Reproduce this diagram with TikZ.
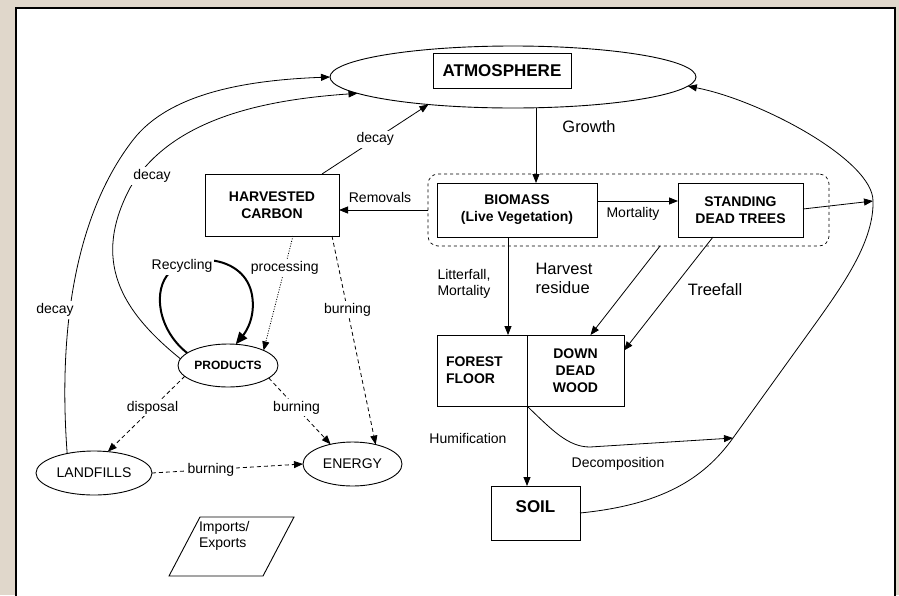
\documentclass[tikz,border=0pt]{standalone}
\usepackage{fontspec}
\setmainfont{Liberation Sans}
\usetikzlibrary{arrows.meta,shapes.geometric,calc}
\definecolor{bgbeige}{RGB}{224,215,203}
\begin{document}
\begin{tikzpicture}[x=1pt,y=-1pt,
  every node/.style={inner sep=0pt,outer sep=0pt},
  box/.style={draw,line width=0.9pt,fill=white},
  oval/.style={draw,ellipse,line width=0.9pt,fill=white},
  lbl/.style={font=\fontsize{14}{16}\selectfont},
  biglbl/.style={font=\fontsize{16.5}{19}\selectfont},
  btxt/.style={font=\bfseries\fontsize{14}{17}\selectfont,align=center},
  conn/.style={line width=0.8pt},
  arr/.style={conn,-{Triangle[length=9pt,width=7pt]}},
  dashedarr/.style={arr,dash pattern=on 4pt off 3pt},
  dottedarr/.style={arr,dash pattern=on 1pt off 1.5pt},
  wlbl/.style={lbl,fill=white,inner sep=2pt}
]
\fill[bgbeige] (0,0) rectangle (899,595);
\useasboundingbox (0,0) rectangle (899,595);
\draw[line width=2.7pt,fill=white] (16,8) rectangle (895,620);

% nodes
\node[oval,minimum width=366,minimum height=62] (atm) at (513,77) {};
\node[box,minimum width=138,minimum height=35,font=\bfseries\fontsize{17}{20}\selectfont] (atmt) at (502,71) {ATMOSPHERE};
\node[box,minimum width=134,minimum height=62,btxt] (hc) at (272,205) {HARVESTED\\CARBON};
\node[draw,dashed,rounded corners=10pt,minimum width=401,minimum height=72,line width=0.7pt] (grp) at (628.5,210) {};
\node[box,minimum width=160,minimum height=54,btxt] (bio) at (517,210) {BIOMASS\\(Live Vegetation)};
\node[box,minimum width=125,minimum height=54,btxt] (sdt) at (740.5,210) {STANDING\\DEAD TREES};
\node[box,minimum width=90,minimum height=71,font=\bfseries\fontsize{14}{17}\selectfont,align=left,text width=72] (ff) at (482,370.5) {FOREST\\FLOOR};
\node[box,minimum width=97,minimum height=71,btxt] (ddw) at (575.5,370.5) {DOWN\\DEAD\\WOOD};
\node[box,minimum width=89,minimum height=54,text depth=12pt,font=\bfseries\fontsize{17}{20}\selectfont] (soil) at (535.5,513) {SOIL};
\node[oval,minimum width=100,minimum height=43,font=\bfseries\fontsize{12}{14}\selectfont] (prod) at (228,365.5) {PRODUCTS};
\node[oval,minimum width=116,minimum height=44,lbl] (land) at (94,473) {LANDFILLS};
\node[oval,minimum width=99,minimum height=44,lbl] (energy) at (352.5,464) {ENERGY};

% imports/exports
\draw[line width=0.9pt] (200,517) -- (294,517) -- (263,576) -- (169,576) -- cycle;
\node[lbl,align=left,anchor=north west] (imp) at (199,521) {Imports/\\Exports};

% connectors
\coordinate (rc) at (873,201);
\coordinate (dc) at (733,438);
\draw[arr] ([xshift=19pt]bio.north |- atm.south) -- ([xshift=19pt]bio.north);
\draw[arr] (grp.west) -- (grp.west -| hc.east);
\draw[arr] ([yshift=9pt]bio.east) -- ([yshift=9pt]bio.east -| sdt.west);
\draw[arr] ([yshift=1pt]sdt.east) -- (rc);
\draw[arr] ([xshift=-9pt]bio.south) -- ([xshift=-9pt]bio.south |- ff.north);
\draw[arr] ([xshift=31.5pt]grp.south) -- ([xshift=15pt]ddw.north);
\draw[arr] ([xshift=-27.5pt]sdt.south) -- ([yshift=20pt]ddw.east);
\draw[arr] (ff.south east) -- (ff.south east |- soil.north);
\draw[arr] (ff.south east) .. controls (552,430) and (568,447) .. (590,447) -- (dc);
\draw[arr] (soil.east) .. controls (660,505) and (703,480) .. (dc) -- (818,320)
  .. controls (845,282) and (874,240) .. (rc) .. controls (873,160) and (760,100) .. (atm.-3);

% left side curves
\draw[arr] (land.144) .. controls (58,330) and (75,215) .. (133,140) .. controls (170,92) and (250,80) .. (atm.west);
\draw[arr] (prod.172) .. controls (120,310) and (92,260) .. (130,188) .. controls (170,120) and (260,100) .. (atm.186);
\node[wlbl] (dk1) at (55,310) {decay};
\node[wlbl] (dk2) at (152,176) {decay};
\draw[arr] ([xshift=50pt]hc.north) -- (atm.198) node[wlbl,pos=0.5] (dk3) {decay};

% recycling
\draw[line width=2pt,-{Triangle[length=12pt,width=10pt]}] (prod.163) .. controls (158,330) and (152,290) .. (170,272) .. controls (190,252) and (245,255) .. (252,295) .. controls (256,318) and (245,333) .. (prod.70);
\node[wlbl] (rcy) at (182,266) {Recycling};

\draw[dottedarr] ([xshift=21pt]hc.south) -- (prod.23) node[wlbl,pos=0.28] (proc) {processing};
\draw[dashedarr] ([xshift=60pt]hc.south) -- (energy.40) node[wlbl,pos=0.354] (b1) {burning};
\draw[dashedarr] (prod.194) -- (land.57) node[wlbl,pos=0.42] (disp) {disposal};
\draw[dashedarr] (prod.-17) -- (energy.138) node[wlbl,pos=0.45] (b2) {burning};
\draw[dashedarr] (land.east) -- (energy.west) node[wlbl,pos=0.39] (b3) {burning};

% labels
\node[biglbl] (gr) at (589,127) {Growth};
\node[lbl] (rem) at (380,197) {Removals};
\node[lbl] (mort) at (633,214) {Mortality};
\node[lbl,align=left,font=\fontsize{14}{15.5}\selectfont] (lit) at (464,284) {Litterfall,\\Mortality};
\node[biglbl,align=left] (hres) at (564,278) {Harvest\\residue};
\node[biglbl] (tf) at (715,290) {Treefall};
\node[lbl] (hum) at (468,438) {Humification};
\node[lbl] (dec) at (618,464) {Decomposition};
\end{tikzpicture}
\end{document}
